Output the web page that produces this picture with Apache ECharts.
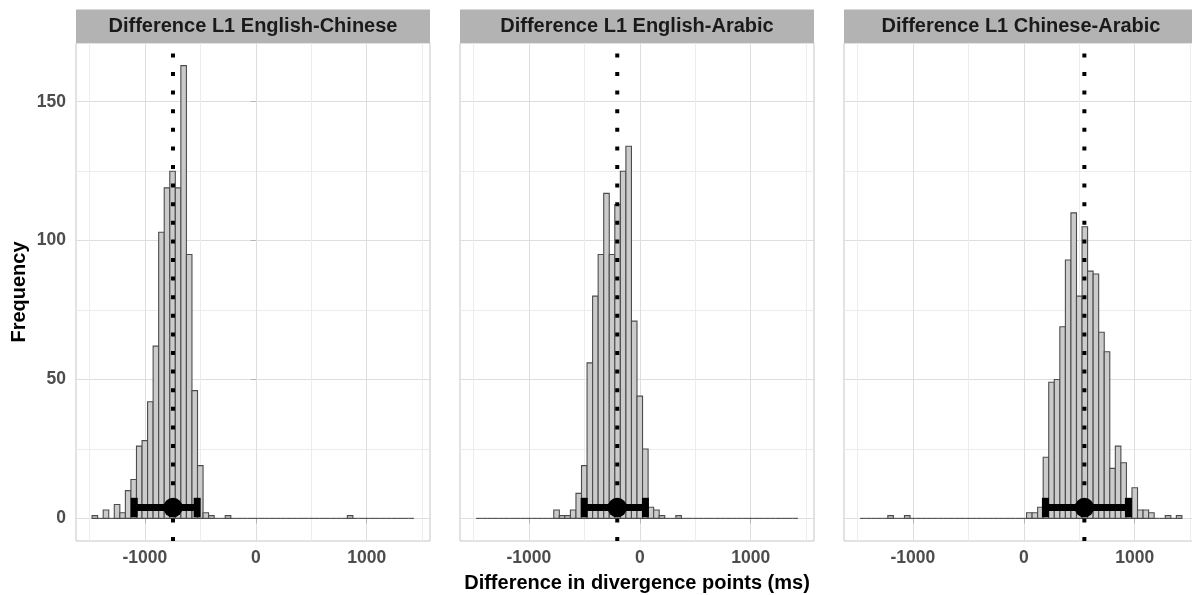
<!DOCTYPE html>
<html>
<head>
<meta charset="utf-8">
<script src="https://cdn.jsdelivr.net/npm/echarts@6/dist/echarts.min.js"></script>
<style>
html,body{margin:0;padding:0;background:#fff;overflow:hidden;width:1192px;height:595px;}
#chart{width:1200px;height:595px;}
</style>
</head>
<body>
<div id="chart"></div>
<script>
// ---- data ----
const binWidth = 50;
const binCenters = [-1450,-1400,-1350,-1300,-1250,-1200,-1150,-1100,-1050,-1000,
  -950,-900,-850,-800,-750,-700,-650,-600,-550,-500,
  -450,-400,-350,-300,-250,-200,-150,-100,-50,0,
  50,100,150,200,250,300,350,400,450,500,
  550,600,650,700,750,800,850,900,950,1000,
  1050,1100,1150,1200,1250,1300,1350,1400];
const countsEnglishChinese = [1,0,3,0,5,2,10,14,26,28,
  42,62,103,119,125,119,163,95,46,19,
  2,1,0,0,1,0,0,0,0,0,
  0,0,0,0,0,0,0,0,0,0,
  0,0,0,0,0,0,1,0,0,0,
  0,0,0,0,0,0,0,0];
const countsEnglishArabic = [0,0,0,0,0,0,0,0,0,0,
  0,0,0,0,3,1,1,3,9,19,
  56,80,95,117,95,113,125,134,71,44,
  25,4,3,1,0,0,1,0,0,0,
  0,0,0,0,0,0,0,0,0,0,
  0,0,0,0,0,0,0,0];
const countsChineseArabic = [0,0,0,0,0,1,0,0,1,0,
  0,0,0,0,0,0,0,0,0,0,
  0,0,0,0,0,0,0,0,0,0,
  2,2,4,22,49,50,69,93,110,80,
  105,89,88,67,60,18,26,20,6,11,
  3,3,2,0,0,1,0,1];
const panelTitles = ['Difference L1 English-Chinese','Difference L1 English-Arabic','Difference L1 Chinese-Arabic'];
const medians = [-746, -203, 546];
const ciLow = [-1095, -501, 195];
const ciHigh = [-528, 51, 943];
const summaryY = 3.9;
const xMajorTicks = [-1000, 0, 1000];
const xMinorTicks = [-1500, -500, 500, 1500];
const yMajorTicks = [0, 50, 100, 150];
const yMinorTicks = [25, 75, 125];
const xTitle = 'Difference in divergence points (ms)';
const yTitle = 'Frequency';

// ---- layout / style ----
const X_MIN = -1620, X_MAX = 1570, Y_MIN = -8.15, Y_MAX = 171.15;
const CHART_W = 1200;
const panelLeft = [76, 460, 844];
const panelWidth = 354;
const gridTop = 43, gridHeight = 498;
const FONT = "'Liberation Sans', Arial, Helvetica, sans-serif";
const allCounts = [countsEnglishChinese, countsEnglishArabic, countsChineseArabic];
const plainNum = v => String(v);

const grids = [], xAxes = [], yAxes = [], series = [], graphics = [];
for (let i = 0; i < 3; i++) {
  grids.push({left: panelLeft[i], top: gridTop, width: panelWidth, height: gridHeight,
    show: true, borderColor: '#c6c6c6', borderWidth: 1, backgroundColor: 'transparent', containLabel: false});
  xAxes.push({gridIndex: i, type: 'value', min: X_MIN, max: X_MAX,
    axisLine: {show: false},
    axisTick: {show: true, customValues: xMajorTicks, length: 5, lineStyle: {color: '#b3b3b3', width: 1}},
    axisLabel: {show: true, customValues: xMajorTicks, formatter: plainNum, margin: 8, color: '#4d4d4d', fontSize: 17.5, fontWeight: 'bold', fontFamily: FONT},
    splitLine: {show: true, lineStyle: {color: '#dedede', width: 1}}});
  xAxes.push({gridIndex: i, type: 'value', min: X_MIN, max: X_MAX,
    axisLine: {show: false},
    axisTick: {show: false, customValues: xMinorTicks},
    axisLabel: {show: false, customValues: xMinorTicks},
    splitLine: {show: true, lineStyle: {color: '#ececec', width: 1}}});
  yAxes.push({gridIndex: i, type: 'value', min: Y_MIN, max: Y_MAX,
    axisLine: {show: false},
    axisTick: {show: i === 0, customValues: yMajorTicks, length: 5, lineStyle: {color: '#b3b3b3', width: 1}},
    axisLabel: {show: i === 0, customValues: yMajorTicks, formatter: plainNum, margin: 10, color: '#4d4d4d', fontSize: 17.5, fontWeight: 'bold', fontFamily: FONT},
    splitLine: {show: true, lineStyle: {color: '#dedede', width: 1}}});
  yAxes.push({gridIndex: i, type: 'value', min: Y_MIN, max: Y_MAX,
    axisLine: {show: false},
    axisTick: {show: false, customValues: yMinorTicks},
    axisLabel: {show: false, customValues: yMinorTicks},
    splitLine: {show: true, lineStyle: {color: '#ececec', width: 1}}});

  const xi = i * 2, yi = i * 2;
  series.push({type: 'custom', xAxisIndex: xi, yAxisIndex: yi, z: 2, silent: true,
    data: binCenters.map((c, k) => [c, allCounts[i][k]]),
    renderItem: function (params, api) {
      const c = api.value(0), n = api.value(1);
      const p0 = api.coord([c - binWidth / 2, n]);
      const p1 = api.coord([c + binWidth / 2, 0]);
      if (n > 0) {
        return {type: 'rect', shape: {x: p0[0], y: p0[1], width: p1[0] - p0[0], height: p1[1] - p0[1]},
          style: {fill: '#cbcbcb', stroke: '#4c4c4c', lineWidth: 1.1}};
      }
      return {type: 'line', shape: {x1: p0[0], y1: p1[1], x2: p1[0], y2: p1[1]},
        style: {stroke: '#4c4c4c', lineWidth: 1.1}};
    }});
  series.push({type: 'line', xAxisIndex: xi, yAxisIndex: yi, z: 3, silent: true, symbol: 'none',
    data: [[medians[i], Y_MIN], [medians[i], Y_MAX]],
    lineStyle: {color: '#000', width: 4, type: [4, 14.6], cap: 'butt'}});
  series.push({type: 'custom', xAxisIndex: xi, yAxisIndex: yi, z: 4, silent: true,
    data: [[ciLow[i], ciHigh[i], summaryY]],
    renderItem: function (params, api) {
      const lo = api.value(0), hi = api.value(1), y = api.value(2);
      const a = api.coord([lo, y]), b = api.coord([hi, y]);
      const capTop = api.coord([lo, y + 3.5])[1], capBot = api.coord([lo, y - 3.5])[1];
      const st = {stroke: '#000', lineWidth: 7, lineCap: 'butt'};
      return {type: 'group', children: [
        {type: 'line', shape: {x1: a[0], y1: a[1], x2: b[0], y2: b[1]}, style: st},
        {type: 'line', shape: {x1: a[0], y1: capTop, x2: a[0], y2: capBot}, style: st},
        {type: 'line', shape: {x1: b[0], y1: capTop, x2: b[0], y2: capBot}, style: st}
      ]};
    }});
  series.push({type: 'scatter', xAxisIndex: xi, yAxisIndex: yi, z: 5, silent: true,
    data: [[medians[i], summaryY]], symbol: 'circle', symbolSize: 19.5,
    itemStyle: {color: '#000', opacity: 1}});

  graphics.push({type: 'rect', shape: {x: panelLeft[i], y: 9.5, width: panelWidth, height: 33.5},
    style: {fill: '#b3b3b3'}, z: 10});
  graphics.push({type: 'text', x: panelLeft[i] + panelWidth / 2, y: 26.5, z: 11,
    style: {text: panelTitles[i], fill: '#1a1a1a', font: 'bold 20px ' + FONT, align: 'center', verticalAlign: 'middle'}});
}
graphics.push({type: 'text', x: (panelLeft[1] + panelWidth / 2), y: 583,
  style: {text: xTitle, fill: '#000', font: 'bold 20px ' + FONT, align: 'center', verticalAlign: 'middle'}});
graphics.push({type: 'text', x: 19.5, y: gridTop + gridHeight / 2, rotation: Math.PI / 2,
  style: {text: yTitle, fill: '#000', font: 'bold 20px ' + FONT, align: 'center', verticalAlign: 'middle'}});

const chart = echarts.init(document.getElementById('chart'), null, {renderer: 'canvas', width: CHART_W, height: 595});
chart.setOption({
  animation: false,
  backgroundColor: '#ffffff',
  grid: grids,
  xAxis: xAxes,
  yAxis: yAxes,
  series: series,
  graphic: graphics
});
</script>
</body>
</html>
